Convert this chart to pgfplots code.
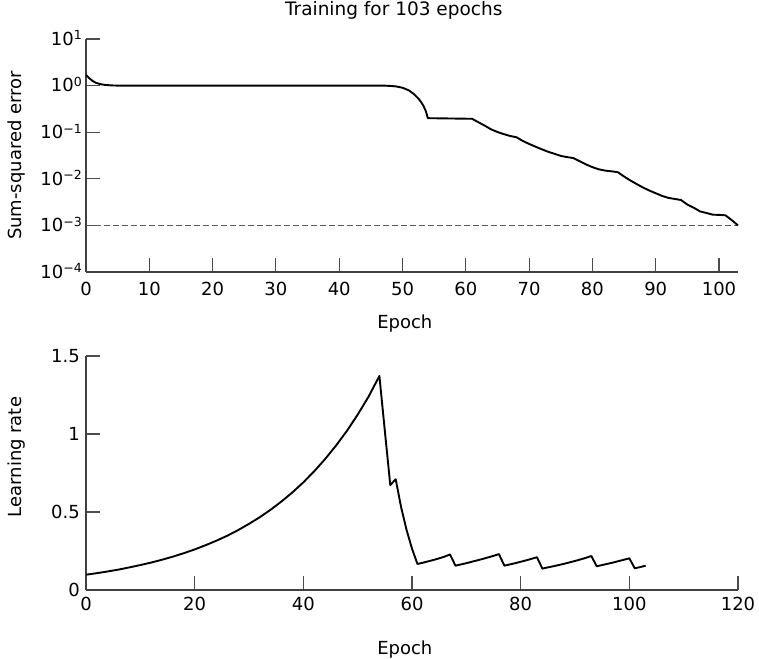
\documentclass[border=0pt]{standalone}
\usepackage{fontspec}
\setmainfont{DejaVu Sans}
\usepackage{pgfplots}
\pgfplotsset{compat=1.18}
\usepackage{pgfplotstable}

\pgfplotstableread{
x y
0 1.7
0.5 1.45
1 1.27
1.5 1.16
2 1.1
2.5 1.06
3 1.035
4 1.01
5 1.0
47 1.0
48 0.985
49 0.96
50 0.9
51 0.79
51.6 0.69
52 0.62
52.5 0.53
52.9 0.45
53.3 0.37
53.7 0.28
54 0.2
61 0.194
62 0.163
63 0.138
64 0.115
65 0.101
66 0.091
67 0.083
68 0.078
69 0.065
70 0.056
71 0.049
72 0.043
73 0.038
74 0.0345
75 0.031
76 0.0292
77 0.0279
78 0.0238
79 0.0203
80 0.0178
81 0.016
82 0.015
83 0.0145
84 0.0139
85 0.0112
86 0.0092
87 0.0077
88 0.0065
89 0.0056
90 0.0049
91 0.0043
92 0.0039
93 0.0037
94 0.0035
95 0.0028
96 0.0024
97 0.0020
98 0.00185
99 0.0017
100 0.00168
101 0.00165
102 0.0013
103 0.001
}\errtable

\pgfplotstableread{
x y
0 0.098
2 0.108
4 0.119
6 0.131
8 0.145
10 0.160
12 0.176
14 0.194
16 0.214
18 0.236
20 0.260
22 0.287
24 0.316
26 0.348
28 0.384
30 0.424
32 0.467
34 0.515
36 0.568
38 0.626
40 0.690
42 0.761
44 0.839
46 0.925
48 1.019
50 1.124
52 1.239
54 1.372
55 1.02
56 0.673
57 0.710
58 0.530
59 0.385
60 0.265
61 0.167
62 0.175
63 0.184
64 0.193
65 0.203
66 0.214
67 0.228
68 0.156
69 0.164
70 0.172
71 0.181
72 0.190
73 0.199
74 0.209
75 0.219
76 0.230
77 0.156
78 0.164
79 0.172
80 0.181
81 0.190
82 0.200
83 0.210
84 0.137
85 0.145
86 0.152
87 0.160
88 0.168
89 0.177
90 0.186
91 0.196
92 0.206
93 0.218
94 0.152
95 0.160
96 0.168
97 0.176
98 0.185
99 0.194
100 0.203
101 0.139
102 0.147
103 0.156
}\lrtable

\newcommand{\sep}[1]{10\raisebox{5.5pt}{\fontsize{12.5}{13}\selectfont #1}}

\pgfplotsset{
  mystyle/.style={
    scale only axis,
    width=652pt,
    axis x line*=bottom,
    axis y line*=left,
    axis line style={-, draw=black!75, line width=1.2pt},
    tick align=inside,
    major tick length=14pt,
    major tick style={draw=black!70, line width=1.1pt},
    minor tick style={draw=none},
    minor tick num=0,
    /pgf/number format/assume math mode=true,
    tick label style={font=\fontsize{18}{21}\selectfont},
    label style={font=\fontsize{18}{21}\selectfont},
    title style={font=\fontsize{18.5}{22}\selectfont},
    clip=false,
  }
}

\begin{document}
\begin{tikzpicture}
\useasboundingbox (-86pt,272pt) rectangle (673pt,-386pt);

\begin{axis}[mystyle,
  at={(0pt,0pt)}, anchor=south west,
  height=233pt,
  ymode=log,
  xmin=0, xmax=103,
  ymin=1e-4, ymax=10,
  xtick={0,10,20,30,40,50,60,70,80,90,100},
  ytick={1e-4,1e-3,1e-2,1e-1,1,10},
  yticklabels={\sep{−4},\sep{−3},\sep{−2},\sep{−1},\sep{0},\sep{1}},
  yticklabel style={anchor=base east, inner sep=0pt, xshift=-4pt, yshift=-6.4pt},
  xticklabel style={anchor=north, inner sep=0pt, yshift=-10pt},
  title={Training for 103 epochs},
  title style={at={(axis description cs:0.472,1)}, anchor=base, yshift=17pt},
  xlabel={Epoch},
  xlabel style={at={(axis description cs:0.489,0)}, anchor=base, yshift=-56pt},
  ylabel={Sum-squared error},
  ylabel style={at={(axis description cs:-0.107,0.5)}, anchor=center, rotate=0},
]
\addplot[draw=black!65, line width=1.2pt, dash pattern=on 6pt off 3pt] coordinates {(0,0.001) (103,0.001)};
\addplot[black, line width=1.9pt, line join=round] table[x=x,y=y] {\errtable};
\end{axis}

\begin{axis}[mystyle,
  at={(0pt,-318pt)}, anchor=south west,
  height=234pt,
  xmin=0, xmax=120,
  ymin=0, ymax=1.5,
  xtick={0,20,40,60,80,100,120},
  ytick={0,0.5,1,1.5},
  yticklabel style={anchor=east, inner sep=0pt, xshift=-6pt},
  xticklabel style={anchor=north, inner sep=0pt, yshift=-7pt},
  xlabel={Epoch},
  xlabel style={at={(axis description cs:0.489,0)}, anchor=base, yshift=-64pt},
  ylabel={Learning rate},
  ylabel style={at={(axis description cs:-0.106,0.568)}, anchor=center},
]
\addplot[black, line width=1.9pt, line join=round] table[x=x,y=y] {\lrtable};
\end{axis}
\end{tikzpicture}
\end{document}
